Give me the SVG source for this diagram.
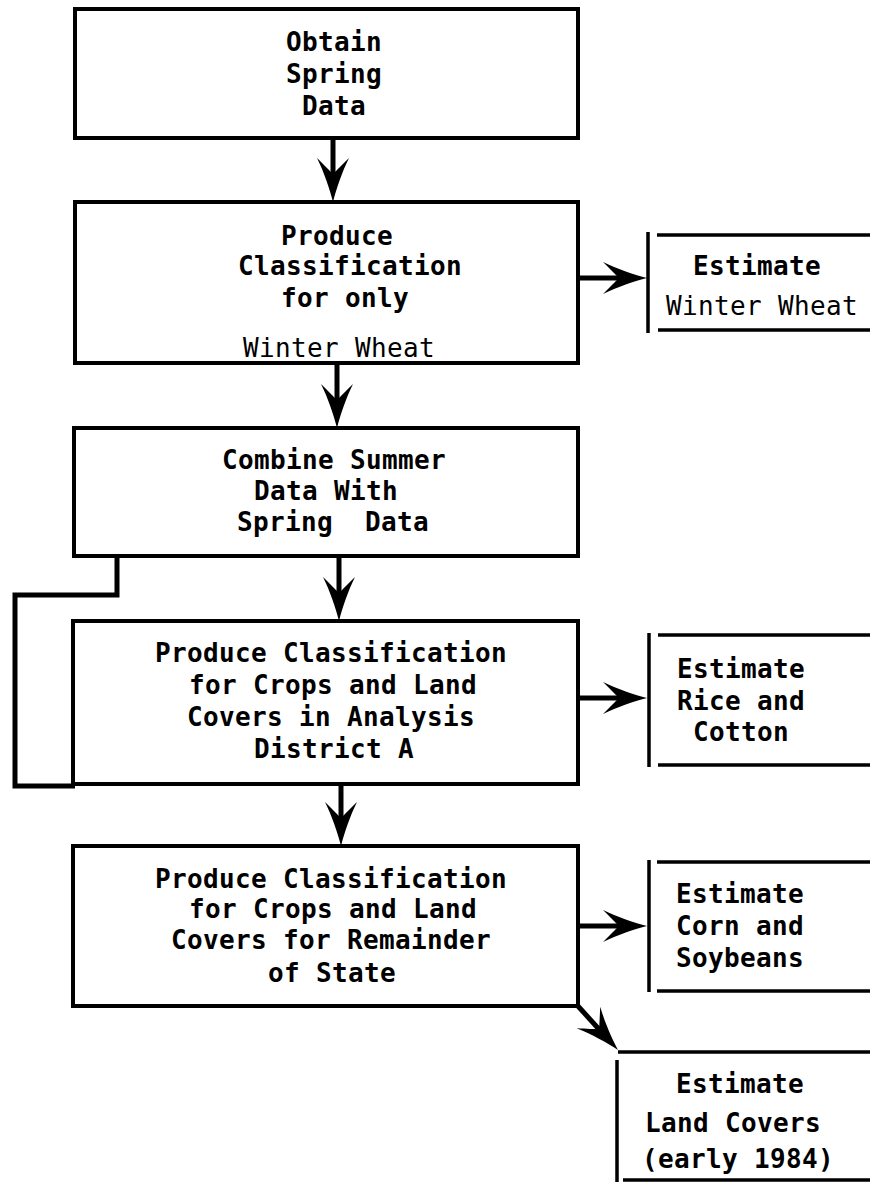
<svg xmlns="http://www.w3.org/2000/svg" xmlns:xlink="http://www.w3.org/1999/xlink" width="870" height="1182" viewBox="0 0 870 1182">
<style>
.box{fill:none;stroke:#000;stroke-width:4;stroke-linejoin:miter}
.eb{fill:none;stroke:#000;stroke-width:3.5}
.conn{fill:none;stroke:#000;stroke-width:5;stroke-linejoin:miter}
.t{font-family:"DejaVu Sans Mono","Liberation Mono",monospace;font-size:26px;font-weight:bold;letter-spacing:0.35px;fill:#000;text-anchor:middle}
.l{font-weight:normal}
</style>
<defs>
<path id="ah" d="M0,0 C-12,-3 -30,-9 -44,-16 C-36,-8 -32,-4 -28,0 C-32,4 -36,8 -44,16 C-30,9 -12,3 0,0 Z" fill="#000"/>
</defs>
<rect width="870" height="1182" fill="#fff"/>

<g id="connectors">
  <path class="conn" d="M333,138 V186"/>
  <use xlink:href="#ah" href="#ah" transform="translate(333,202) rotate(90)"/>
  <path class="conn" d="M337,363 V412"/>
  <use xlink:href="#ah" href="#ah" transform="translate(337,428) rotate(90)"/>
  <path class="conn" d="M339,556 V605"/>
  <use xlink:href="#ah" href="#ah" transform="translate(339,621) rotate(90)"/>
  <path class="conn" d="M341,784 V830"/>
  <use xlink:href="#ah" href="#ah" transform="translate(341,846) rotate(90)"/>
  <path class="conn" d="M578,278 H630"/>
  <use xlink:href="#ah" href="#ah" transform="translate(647,278)"/>
  <path class="conn" d="M578,698 H630"/>
  <use xlink:href="#ah" href="#ah" transform="translate(647,698)"/>
  <path class="conn" d="M578,926 H630"/>
  <use xlink:href="#ah" href="#ah" transform="translate(647,926)"/>
  <path class="conn" d="M577,1005 L606,1037"/>
  <use xlink:href="#ah" href="#ah" transform="translate(618,1050) rotate(47.7)"/>
  <path class="conn" d="M117,556 V595 H15 V786 H75"/>
</g>

<g id="n1">
  <rect class="box" x="75" y="9" width="503" height="129"/>
  <text class="t" x="334" y="51">Obtain</text>
  <text class="t" x="334" y="83">Spring</text>
  <text class="t" x="334" y="115">Data</text>
</g>

<g id="n2">
  <rect class="box" x="75" y="202" width="503" height="161"/>
  <text class="t" x="337" y="245">Produce</text>
  <text class="t" x="350" y="275">Classification</text>
  <text class="t" x="345" y="307">for only</text>
  <text class="t l" x="339" y="357">Winter Wheat</text>
</g>

<g id="n3">
  <rect class="box" x="74" y="428" width="504" height="128"/>
  <text class="t" x="334" y="469">Combine Summer</text>
  <text class="t" x="326" y="500">Data With</text>
  <text class="t" x="333" y="531" xml:space="preserve">Spring  Data</text>
</g>

<g id="n4">
  <rect class="box" x="73" y="621" width="505" height="163"/>
  <text class="t" x="331" y="662">Produce Classification</text>
  <text class="t" x="333" y="694">for Crops and Land</text>
  <text class="t" x="331" y="726">Covers in Analysis</text>
  <text class="t" x="334" y="758">District A</text>
</g>

<g id="n5">
  <rect class="box" x="73" y="846" width="505" height="160"/>
  <text class="t" x="331" y="888">Produce Classification</text>
  <text class="t" x="333" y="918">for Crops and Land</text>
  <text class="t" x="331" y="949">Covers for Remainder</text>
  <text class="t" x="332" y="982">of State</text>
</g>

<g id="e1">
  <path class="eb" d="M648,232 V333 M657,235 H870 M658,330 H870"/>
  <text class="t" x="757" y="275">Estimate</text>
  <text class="t l" x="762" y="315">Winter Wheat</text>
</g>

<g id="e2">
  <path class="eb" d="M649,633 V767 M658,635 H870 M658,765 H870"/>
  <text class="t" x="741" y="678">Estimate</text>
  <text class="t" x="741" y="710">Rice and</text>
  <text class="t" x="741" y="741">Cotton</text>
</g>

<g id="e3">
  <path class="eb" d="M649,860 V992 M657,862 H870 M657,991 H870"/>
  <text class="t" x="740" y="903">Estimate</text>
  <text class="t" x="740" y="935">Corn and</text>
  <text class="t" x="740" y="967">Soybeans</text>
</g>

<g id="e4">
  <path class="eb" d="M617,1060 V1182 M618,1052 H870 M623,1180 H870"/>
  <text class="t" x="740" y="1093">Estimate</text>
  <text class="t" x="733" y="1132">Land Covers</text>
  <text class="t" x="738" y="1168">(early 1984)</text>
</g>
</svg>
